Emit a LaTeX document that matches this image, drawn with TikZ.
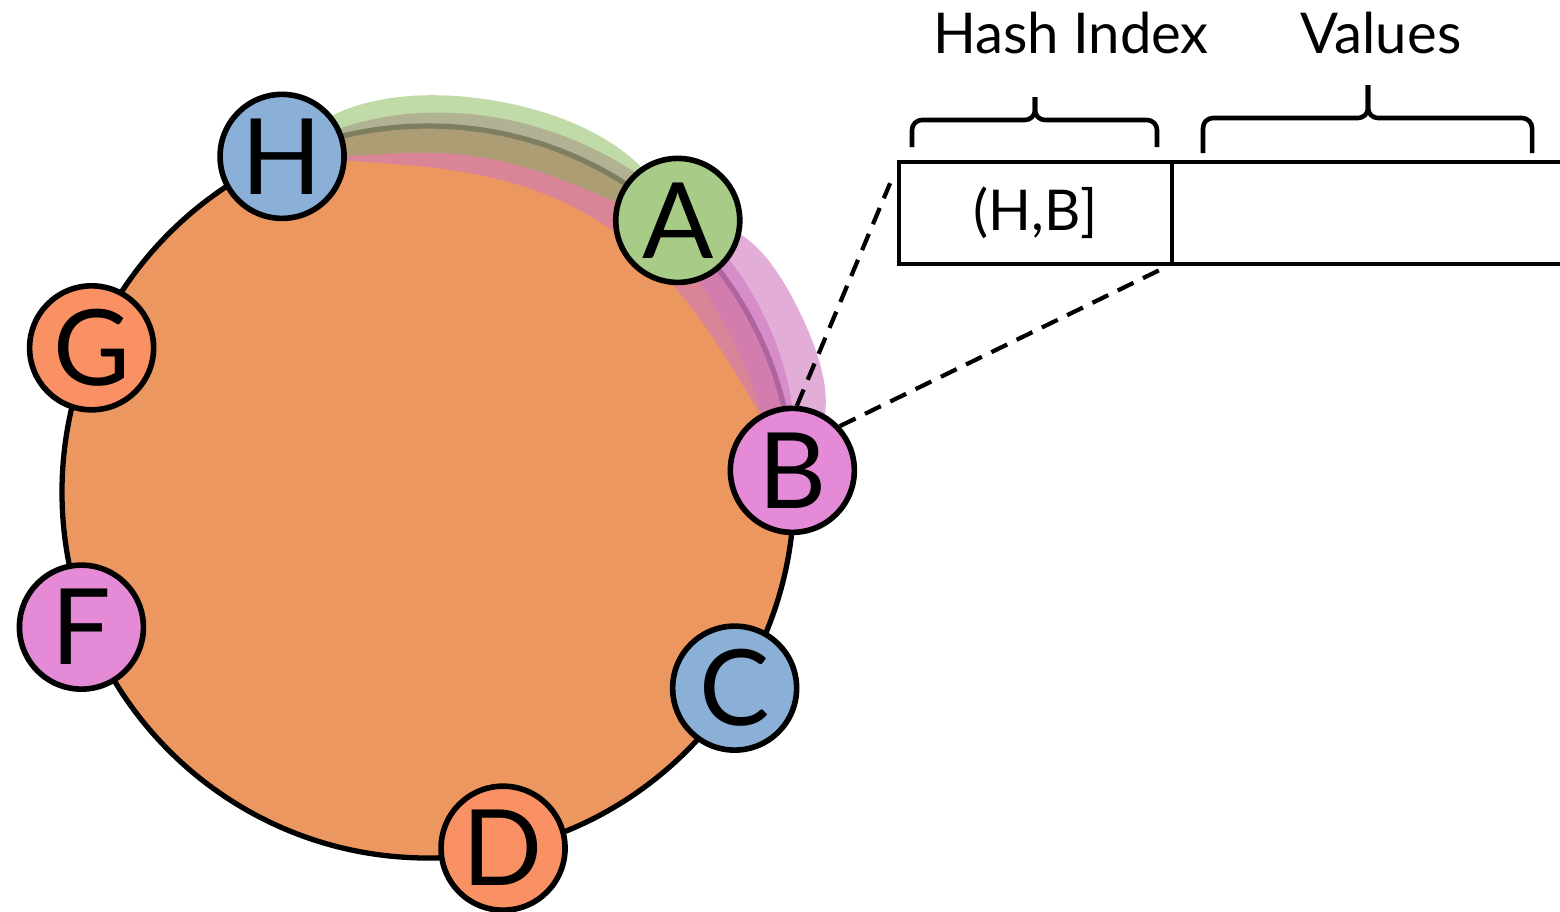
\documentclass[tikz,border=0pt]{standalone}
\usepackage{fontspec}
\setmainfont{Lato}
\usetikzlibrary{positioning}
\definecolor{ringorange}{RGB}{236,151,95}
\definecolor{peerblue}{RGB}{138,176,216}
\definecolor{peergreen}{RGB}{168,204,136}
\definecolor{peerpink}{RGB}{229,138,214}
\definecolor{peersalmon}{RGB}{249,145,100}
\definecolor{bandpink}{RGB}{207,120,190}
\definecolor{bandgreen}{RGB}{129,183,81}
\tikzset{
peer/.style={circle, draw, line width=1.6pt, minimum size=1.24cm, inner sep=0pt, font=\fontsize{30}{30}\selectfont}, % a node sitting on the ring
zoomline/.style={line width=1.2pt, dash pattern=on 5pt off 3pt}, % the two lines that open the zoom
cell/.style={draw, line width=1.3pt, minimum height=1.02cm, inner sep=0pt, outer sep=0pt, font=\fontsize{16}{19}\selectfont}, % a field of the record
header/.style={font=\fontsize{16}{19}\selectfont, anchor=base}, % text over a brace
hbrace/.style={line width=1.3pt, rounded corners=0.1cm}, % the braces, drawn half by half
}
% crescent along the ring: start angle, end angle, width out, width in, look
\newcommand{\ringband}[5]{%
  \fill[#5] plot[domain=0:1, samples=60] ({#1+(#2-#1)*\x}:{3.66+#3*(1-(2*\x-1)*(2*\x-1)*(2*\x-1)*(2*\x-1))})
    -- plot[domain=1:0, samples=60] ({#1+(#2-#1)*\x}:{3.66-#4*(1-(2*\x-1)*(2*\x-1)*(2*\x-1)*(2*\x-1))}) -- cycle;}

\begin{document}
\begin{tikzpicture}
    \useasboundingbox (0,0) rectangle (15.6,9.11);

    \begin{scope}[shift={(4.28,4.19)}]
        \draw[fill=ringorange, line width=1.5pt] (0,0) circle (3.66);

        % key ranges
        \ringband{113.5}{3.4}{0.15}{0.46}{bandpink, opacity=0.6}
        \ringband{113.5}{47.4}{0.31}{0.27}{bandgreen, opacity=0.5}
        \ringband{47.4}{3.4}{0.47}{0.25}{bandpink, opacity=0.6}

        \node[peer, fill=peerblue] (H) at (113.5:3.66) {H};
        \node[peer, fill=peergreen] (A) at (47.4:3.69) {A};
        \node[peer, fill=peerpink] (B) at (3.4:3.65) {B};
        \node[peer, fill=peerblue] (C) at (-32.6:3.64) {C};
        \node[peer, fill=peersalmon] (D) at (-78.1:3.64) {D};
        \node[peer, fill=peerpink] (F) at (201.3:3.72) {F};
        \node[peer, fill=peersalmon] (G) at (156.8:3.66) {G};
    \end{scope}

    \node[cell, minimum width=2.73cm, anchor=north west] (hidx) at (8.99,7.49) {(H,B]};
    \node[cell, minimum width=4cm, anchor=north west] (vals) at (hidx.north east) {};

    \draw[zoomline, shorten >=0.23cm] (B.86) -- (hidx.north west);
    \draw[zoomline, shorten >=0.13cm] (B.43) -- (hidx.south east);

    \draw[hbrace] (9.12,7.64) -- (9.12,7.91) -- (10.35,7.91) -- (10.35,8.14);
    \draw[hbrace] (11.57,7.64) -- (11.57,7.91) -- (10.35,7.91) -- (10.35,8.14);
    \draw[hbrace] (12.03,7.58) -- (12.03,7.93) -- (13.68,7.93) -- (13.68,8.26);
    \draw[hbrace] (15.32,7.58) -- (15.32,7.93) -- (13.68,7.93) -- (13.68,8.26);

    \node[header] (hashlbl) at (10.71,8.58) {Hash Index};
    \node[header] (vallbl) at (13.81,8.58) {Values};
\end{tikzpicture}
\end{document}
